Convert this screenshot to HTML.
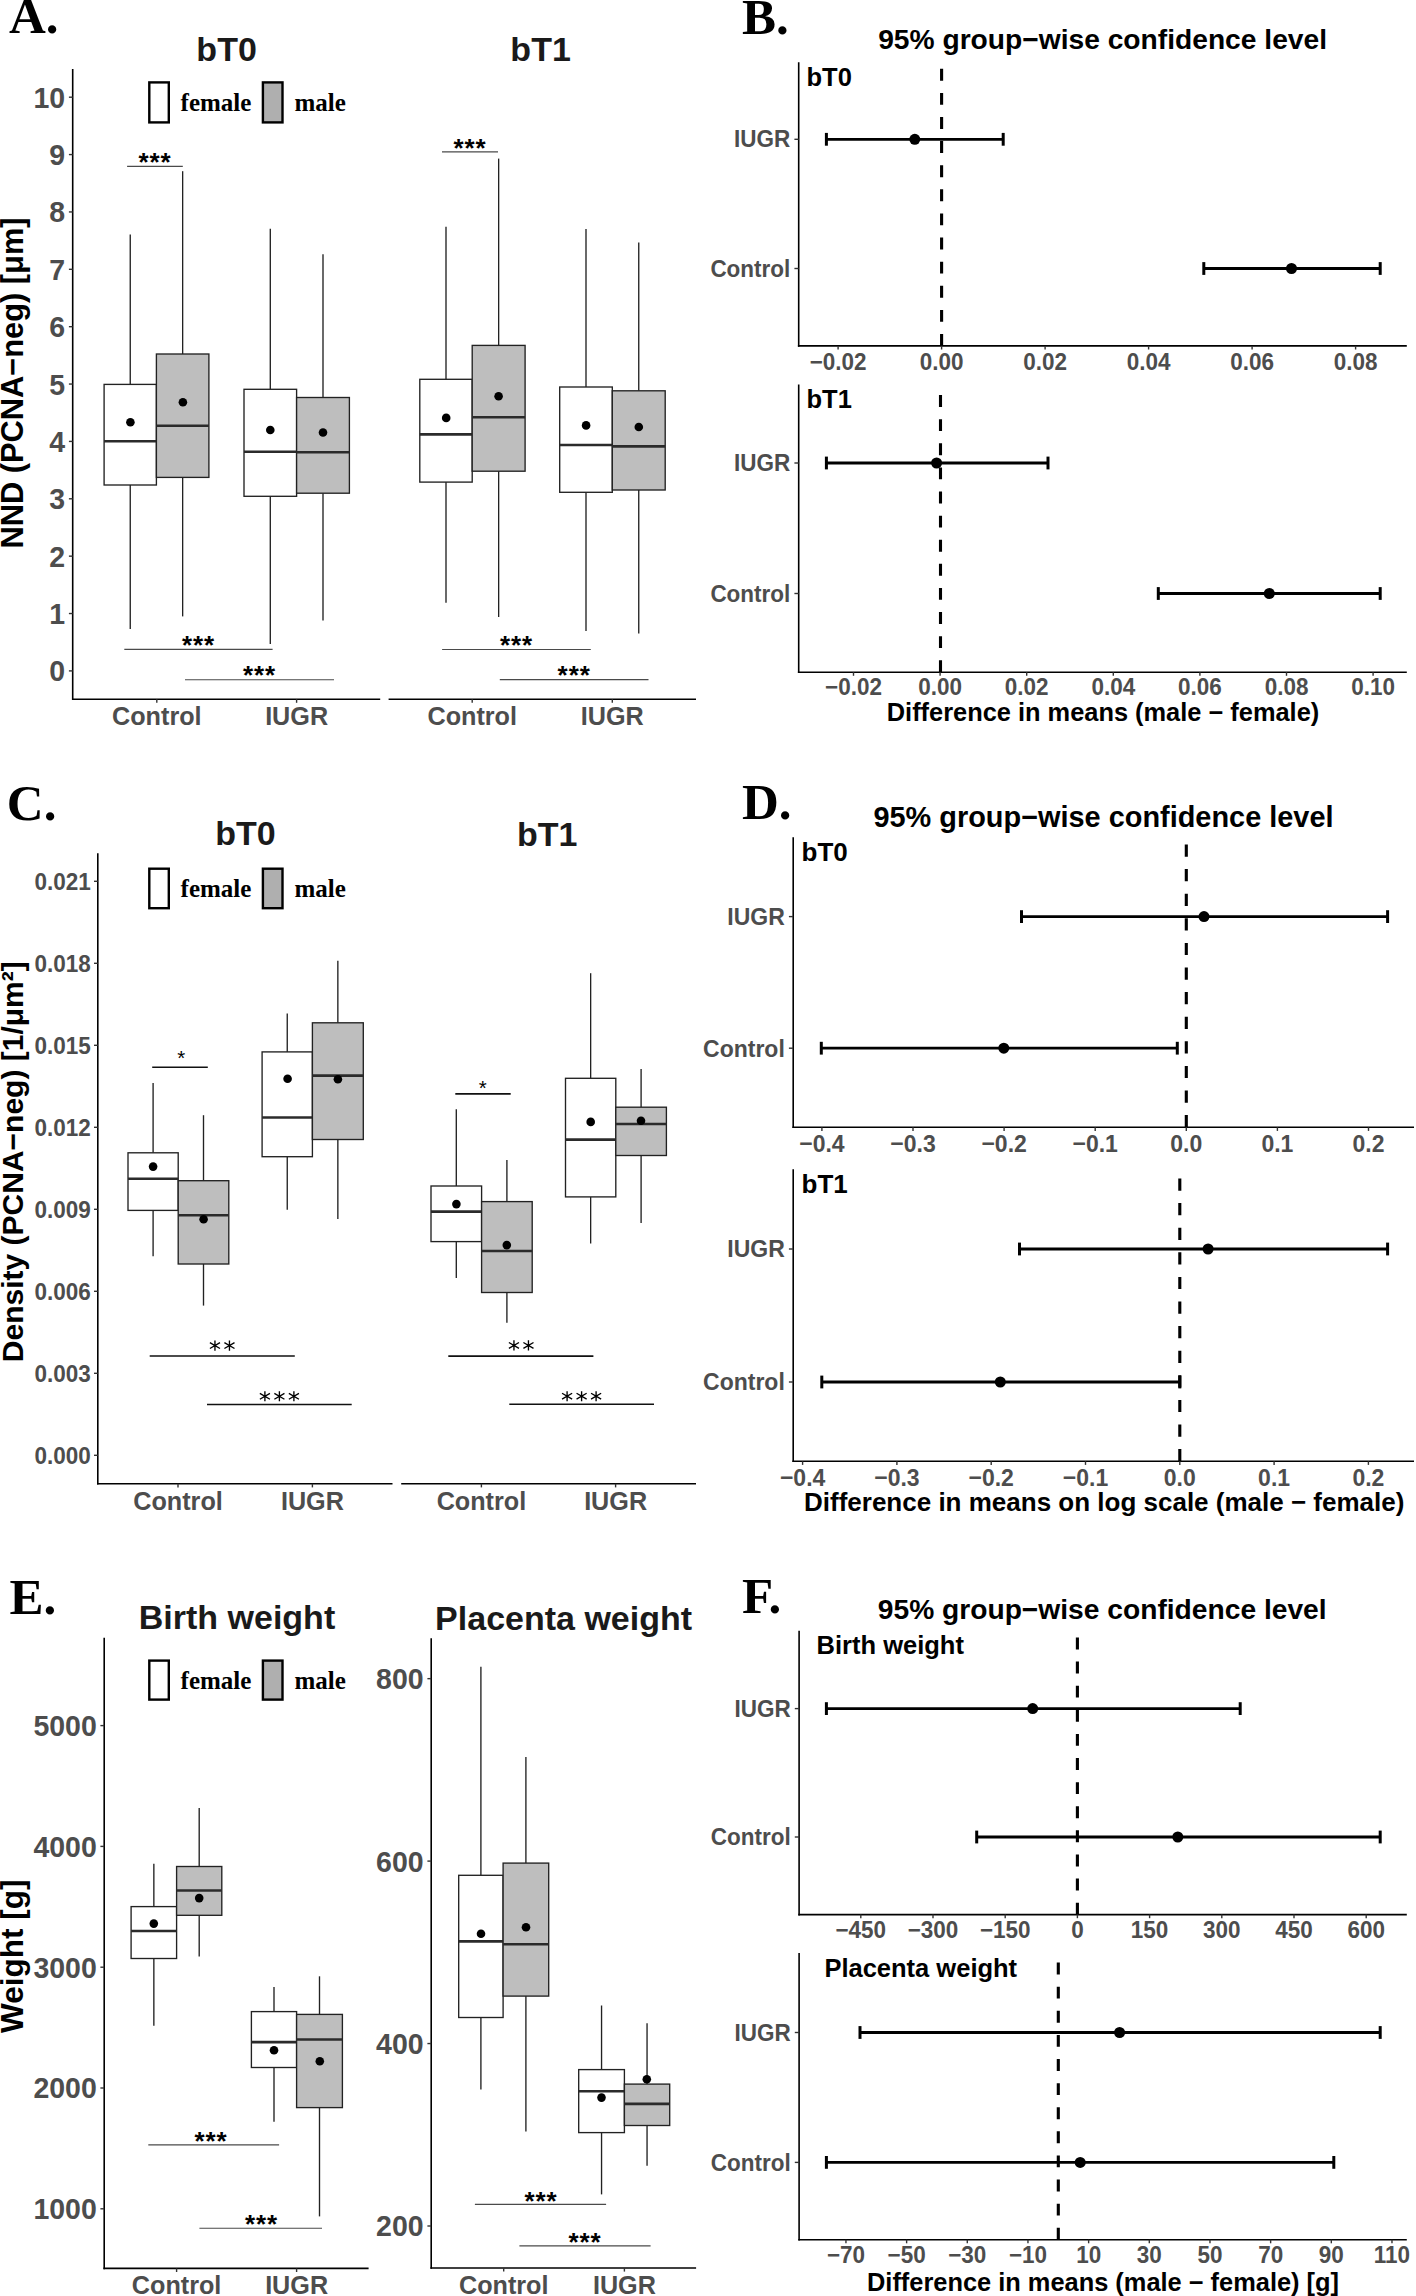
<!DOCTYPE html>
<html><head><meta charset="utf-8"><title>Figure</title>
<style>html,body{margin:0;padding:0;background:#fff;overflow:hidden;}svg{display:block;}</style>
</head><body>
<svg width="1416" height="2296" viewBox="0 0 1416 2296">
<rect x="0" y="0" width="1416" height="2296" fill="#fff"/>
<text x="9" y="33.3" font-family="'Liberation Serif', serif" font-size="51" font-weight="bold" text-anchor="start" fill="#000" >A.</text>
<text x="226.6" y="60.9" font-family="'Liberation Sans', sans-serif" font-size="34" font-weight="bold" text-anchor="middle" fill="#1a1a1a" >bT0</text>
<text x="540.6" y="61" font-family="'Liberation Sans', sans-serif" font-size="34" font-weight="bold" text-anchor="middle" fill="#1a1a1a" >bT1</text>
<rect x="149.3" y="82.4" width="19.5" height="40" fill="#ffffff" stroke="#000" stroke-width="2.4"/>
<rect x="262.9" y="82.4" width="19.6" height="40" fill="#afafaf" stroke="#000" stroke-width="2.4"/>
<text x="180.6" y="110.7" font-family="'Liberation Serif', serif" font-size="25" font-weight="bold" text-anchor="start" fill="#000" >female</text>
<text x="294.4" y="110.7" font-family="'Liberation Serif', serif" font-size="25" font-weight="bold" text-anchor="start" fill="#000" >male</text>
<line x1="72.7" y1="69" x2="72.7" y2="700" stroke="#000" stroke-width="1.6" />
<line x1="68.9" y1="670.9" x2="72.7" y2="670.9" stroke="#333" stroke-width="1.4" />
<text x="0" y="0" transform="translate(65.2 681.39) scale(1 1.05)" font-family="'Liberation Sans', sans-serif" font-size="28.5" font-weight="bold" text-anchor="end" fill="#4d4d4d" >0</text>
<line x1="68.9" y1="613.53" x2="72.7" y2="613.53" stroke="#333" stroke-width="1.4" />
<text x="0" y="0" transform="translate(65.2 624.02) scale(1 1.05)" font-family="'Liberation Sans', sans-serif" font-size="28.5" font-weight="bold" text-anchor="end" fill="#4d4d4d" >1</text>
<line x1="68.9" y1="556.16" x2="72.7" y2="556.16" stroke="#333" stroke-width="1.4" />
<text x="0" y="0" transform="translate(65.2 566.65) scale(1 1.05)" font-family="'Liberation Sans', sans-serif" font-size="28.5" font-weight="bold" text-anchor="end" fill="#4d4d4d" >2</text>
<line x1="68.9" y1="498.79" x2="72.7" y2="498.79" stroke="#333" stroke-width="1.4" />
<text x="0" y="0" transform="translate(65.2 509.28) scale(1 1.05)" font-family="'Liberation Sans', sans-serif" font-size="28.5" font-weight="bold" text-anchor="end" fill="#4d4d4d" >3</text>
<line x1="68.9" y1="441.42" x2="72.7" y2="441.42" stroke="#333" stroke-width="1.4" />
<text x="0" y="0" transform="translate(65.2 451.91) scale(1 1.05)" font-family="'Liberation Sans', sans-serif" font-size="28.5" font-weight="bold" text-anchor="end" fill="#4d4d4d" >4</text>
<line x1="68.9" y1="384.05" x2="72.7" y2="384.05" stroke="#333" stroke-width="1.4" />
<text x="0" y="0" transform="translate(65.2 394.54) scale(1 1.05)" font-family="'Liberation Sans', sans-serif" font-size="28.5" font-weight="bold" text-anchor="end" fill="#4d4d4d" >5</text>
<line x1="68.9" y1="326.68" x2="72.7" y2="326.68" stroke="#333" stroke-width="1.4" />
<text x="0" y="0" transform="translate(65.2 337.17) scale(1 1.05)" font-family="'Liberation Sans', sans-serif" font-size="28.5" font-weight="bold" text-anchor="end" fill="#4d4d4d" >6</text>
<line x1="68.9" y1="269.31" x2="72.7" y2="269.31" stroke="#333" stroke-width="1.4" />
<text x="0" y="0" transform="translate(65.2 279.8) scale(1 1.05)" font-family="'Liberation Sans', sans-serif" font-size="28.5" font-weight="bold" text-anchor="end" fill="#4d4d4d" >7</text>
<line x1="68.9" y1="211.94" x2="72.7" y2="211.94" stroke="#333" stroke-width="1.4" />
<text x="0" y="0" transform="translate(65.2 222.43) scale(1 1.05)" font-family="'Liberation Sans', sans-serif" font-size="28.5" font-weight="bold" text-anchor="end" fill="#4d4d4d" >8</text>
<line x1="68.9" y1="154.57" x2="72.7" y2="154.57" stroke="#333" stroke-width="1.4" />
<text x="0" y="0" transform="translate(65.2 165.06) scale(1 1.05)" font-family="'Liberation Sans', sans-serif" font-size="28.5" font-weight="bold" text-anchor="end" fill="#4d4d4d" >9</text>
<line x1="68.9" y1="97.2" x2="72.7" y2="97.2" stroke="#333" stroke-width="1.4" />
<text x="0" y="0" transform="translate(65.2 107.69) scale(1 1.05)" font-family="'Liberation Sans', sans-serif" font-size="28.5" font-weight="bold" text-anchor="end" fill="#4d4d4d" >10</text>
<line x1="72" y1="699.2" x2="380.2" y2="699.2" stroke="#000" stroke-width="1.6" />
<line x1="156.8" y1="699.2" x2="156.8" y2="702.8" stroke="#333" stroke-width="1.4" />
<text x="0" y="0" transform="translate(156.8 725) scale(1 1.04)" font-family="'Liberation Sans', sans-serif" font-size="25.2" font-weight="bold" text-anchor="middle" fill="#4d4d4d" >Control</text>
<line x1="296.6" y1="699.2" x2="296.6" y2="702.8" stroke="#333" stroke-width="1.4" />
<text x="0" y="0" transform="translate(296.6 725) scale(1 1.04)" font-family="'Liberation Sans', sans-serif" font-size="25.2" font-weight="bold" text-anchor="middle" fill="#4d4d4d" >IUGR</text>
<line x1="388.6" y1="699.2" x2="696" y2="699.2" stroke="#000" stroke-width="1.6" />
<line x1="472.2" y1="699.2" x2="472.2" y2="702.8" stroke="#333" stroke-width="1.4" />
<text x="0" y="0" transform="translate(472.2 725) scale(1 1.04)" font-family="'Liberation Sans', sans-serif" font-size="25.2" font-weight="bold" text-anchor="middle" fill="#4d4d4d" >Control</text>
<line x1="612.3" y1="699.2" x2="612.3" y2="702.8" stroke="#333" stroke-width="1.4" />
<text x="0" y="0" transform="translate(612.3 725) scale(1 1.04)" font-family="'Liberation Sans', sans-serif" font-size="25.2" font-weight="bold" text-anchor="middle" fill="#4d4d4d" >IUGR</text>
<text x="23.2" y="383" font-family="'Liberation Sans', sans-serif" font-size="30.8" font-weight="bold" text-anchor="middle" fill="#000" transform="rotate(-90 23.2 383)">NND (PCNA−neg) [μm]</text>
<line x1="130.25" y1="234.5" x2="130.25" y2="384.4" stroke="#222222" stroke-width="1.35" />
<line x1="130.25" y1="485" x2="130.25" y2="629" stroke="#222222" stroke-width="1.35" />
<rect x="104.1" y="384.4" width="52.3" height="100.6" fill="#ffffff" stroke="#222222" stroke-width="1.35"/>
<line x1="104.1" y1="441.3" x2="156.4" y2="441.3" stroke="#2b2b2b" stroke-width="2.6" />
<circle cx="130.4" cy="422.2" r="4.3" fill="#000"/>
<line x1="182.65" y1="171.2" x2="182.65" y2="354" stroke="#222222" stroke-width="1.35" />
<line x1="182.65" y1="477.4" x2="182.65" y2="616.4" stroke="#222222" stroke-width="1.35" />
<rect x="156.4" y="354" width="52.5" height="123.4" fill="#bebebe" stroke="#222222" stroke-width="1.35"/>
<line x1="156.4" y1="425.8" x2="208.9" y2="425.8" stroke="#2b2b2b" stroke-width="2.6" />
<circle cx="182.9" cy="402.2" r="4.3" fill="#000"/>
<line x1="270.3" y1="228.8" x2="270.3" y2="389.3" stroke="#222222" stroke-width="1.35" />
<line x1="270.3" y1="496.3" x2="270.3" y2="644" stroke="#222222" stroke-width="1.35" />
<rect x="244" y="389.3" width="52.6" height="107" fill="#ffffff" stroke="#222222" stroke-width="1.35"/>
<line x1="244" y1="451.7" x2="296.6" y2="451.7" stroke="#2b2b2b" stroke-width="2.6" />
<circle cx="270.3" cy="430" r="4.3" fill="#000"/>
<line x1="323" y1="254.2" x2="323" y2="397.5" stroke="#222222" stroke-width="1.35" />
<line x1="323" y1="493.2" x2="323" y2="620.6" stroke="#222222" stroke-width="1.35" />
<rect x="296.6" y="397.5" width="52.8" height="95.7" fill="#bebebe" stroke="#222222" stroke-width="1.35"/>
<line x1="296.6" y1="452.3" x2="349.4" y2="452.3" stroke="#2b2b2b" stroke-width="2.6" />
<circle cx="323" cy="432.5" r="4.3" fill="#000"/>
<line x1="446" y1="226.7" x2="446" y2="379.3" stroke="#222222" stroke-width="1.35" />
<line x1="446" y1="482.1" x2="446" y2="602.8" stroke="#222222" stroke-width="1.35" />
<rect x="419.8" y="379.3" width="52.4" height="102.8" fill="#ffffff" stroke="#222222" stroke-width="1.35"/>
<line x1="419.8" y1="434.4" x2="472.2" y2="434.4" stroke="#2b2b2b" stroke-width="2.6" />
<circle cx="446.2" cy="417.9" r="4.3" fill="#000"/>
<line x1="498.65" y1="158.6" x2="498.65" y2="345.4" stroke="#222222" stroke-width="1.35" />
<line x1="498.65" y1="471.2" x2="498.65" y2="617" stroke="#222222" stroke-width="1.35" />
<rect x="472.2" y="345.4" width="52.9" height="125.8" fill="#bebebe" stroke="#222222" stroke-width="1.35"/>
<line x1="472.2" y1="417.2" x2="525.1" y2="417.2" stroke="#2b2b2b" stroke-width="2.6" />
<circle cx="498.6" cy="396.2" r="4.3" fill="#000"/>
<line x1="586" y1="228.9" x2="586" y2="387" stroke="#222222" stroke-width="1.35" />
<line x1="586" y1="492.3" x2="586" y2="631" stroke="#222222" stroke-width="1.35" />
<rect x="559.7" y="387" width="52.6" height="105.3" fill="#ffffff" stroke="#222222" stroke-width="1.35"/>
<line x1="559.7" y1="445" x2="612.3" y2="445" stroke="#2b2b2b" stroke-width="2.6" />
<circle cx="586.1" cy="425.4" r="4.3" fill="#000"/>
<line x1="638.75" y1="242.5" x2="638.75" y2="390.8" stroke="#222222" stroke-width="1.35" />
<line x1="638.75" y1="490" x2="638.75" y2="633.5" stroke="#222222" stroke-width="1.35" />
<rect x="612.3" y="390.8" width="52.9" height="99.2" fill="#bebebe" stroke="#222222" stroke-width="1.35"/>
<line x1="612.3" y1="446.4" x2="665.2" y2="446.4" stroke="#2b2b2b" stroke-width="2.6" />
<circle cx="638.8" cy="427" r="4.3" fill="#000"/>
<line x1="127.1" y1="166.4" x2="182.8" y2="166.4" stroke="#4a4a4a" stroke-width="1.15" />
<text x="154.95" y="171.1" font-family="'Liberation Sans', sans-serif" font-size="26" font-weight="bold" text-anchor="middle" fill="#000" letter-spacing="0.9">***</text>
<line x1="124.3" y1="649.4" x2="272.6" y2="649.4" stroke="#4a4a4a" stroke-width="1.15" />
<text x="198.45" y="654.1" font-family="'Liberation Sans', sans-serif" font-size="26" font-weight="bold" text-anchor="middle" fill="#000" letter-spacing="0.9">***</text>
<line x1="185" y1="679.7" x2="334" y2="679.7" stroke="#4a4a4a" stroke-width="1.15" />
<text x="259.5" y="684.4" font-family="'Liberation Sans', sans-serif" font-size="26" font-weight="bold" text-anchor="middle" fill="#000" letter-spacing="0.9">***</text>
<line x1="442" y1="151.9" x2="498" y2="151.9" stroke="#4a4a4a" stroke-width="1.15" />
<text x="470" y="156.6" font-family="'Liberation Sans', sans-serif" font-size="26" font-weight="bold" text-anchor="middle" fill="#000" letter-spacing="0.9">***</text>
<line x1="442.1" y1="649.5" x2="590.8" y2="649.5" stroke="#4a4a4a" stroke-width="1.15" />
<text x="516.45" y="654.2" font-family="'Liberation Sans', sans-serif" font-size="26" font-weight="bold" text-anchor="middle" fill="#000" letter-spacing="0.9">***</text>
<line x1="499.8" y1="679.6" x2="648.5" y2="679.6" stroke="#4a4a4a" stroke-width="1.15" />
<text x="574.15" y="684.3" font-family="'Liberation Sans', sans-serif" font-size="26" font-weight="bold" text-anchor="middle" fill="#000" letter-spacing="0.9">***</text>
<text x="742" y="33.6" font-family="'Liberation Serif', serif" font-size="51" font-weight="bold" text-anchor="start" fill="#000" >B.</text>
<text x="1102.6" y="49.3" font-family="'Liberation Sans', sans-serif" font-size="28.2" font-weight="bold" text-anchor="middle" fill="#000" >95% group−wise confidence level</text>
<line x1="798.7" y1="62.3" x2="798.7" y2="346.7" stroke="#000" stroke-width="1.6" />
<line x1="797.9" y1="345.9" x2="1406.8" y2="345.9" stroke="#000" stroke-width="1.6" />
<line x1="941.6" y1="345.9" x2="941.6" y2="62.3" stroke="#000" stroke-width="3.1" stroke-dasharray="11.9 12.21"/>
<text x="806.5" y="85.6" font-family="'Liberation Sans', sans-serif" font-size="25.5" font-weight="bold" text-anchor="start" fill="#000" >bT0</text>
<line x1="794.4" y1="139.3" x2="798.7" y2="139.3" stroke="#333" stroke-width="1.4" />
<text x="0" y="0" transform="translate(790.3 147.43) scale(1 1.05)" font-family="'Liberation Sans', sans-serif" font-size="22.5" font-weight="bold" text-anchor="end" fill="#4d4d4d" >IUGR</text>
<line x1="826.4" y1="139.3" x2="1003.2" y2="139.3" stroke="#000" stroke-width="2.8" />
<line x1="826.4" y1="132.9" x2="826.4" y2="145.7" stroke="#000" stroke-width="3" />
<line x1="1003.2" y1="132.9" x2="1003.2" y2="145.7" stroke="#000" stroke-width="3" />
<circle cx="914.8" cy="139.3" r="5.5" fill="#000"/>
<line x1="794.4" y1="268.5" x2="798.7" y2="268.5" stroke="#333" stroke-width="1.4" />
<text x="0" y="0" transform="translate(790.3 276.63) scale(1 1.05)" font-family="'Liberation Sans', sans-serif" font-size="22.5" font-weight="bold" text-anchor="end" fill="#4d4d4d" >Control</text>
<line x1="1203.8" y1="268.5" x2="1380.2" y2="268.5" stroke="#000" stroke-width="2.8" />
<line x1="1203.8" y1="262.1" x2="1203.8" y2="274.9" stroke="#000" stroke-width="3" />
<line x1="1380.2" y1="262.1" x2="1380.2" y2="274.9" stroke="#000" stroke-width="3" />
<circle cx="1291.5" cy="268.5" r="5.5" fill="#000"/>
<line x1="838.1" y1="345.9" x2="838.1" y2="349.5" stroke="#333" stroke-width="1.4" />
<text x="0" y="0" transform="translate(838.1 369.5) scale(1 1.05)" font-family="'Liberation Sans', sans-serif" font-size="22.5" font-weight="bold" text-anchor="middle" fill="#4d4d4d" >−0.02</text>
<line x1="941.6" y1="345.9" x2="941.6" y2="349.5" stroke="#333" stroke-width="1.4" />
<text x="0" y="0" transform="translate(941.6 369.5) scale(1 1.05)" font-family="'Liberation Sans', sans-serif" font-size="22.5" font-weight="bold" text-anchor="middle" fill="#4d4d4d" >0.00</text>
<line x1="1045.1" y1="345.9" x2="1045.1" y2="349.5" stroke="#333" stroke-width="1.4" />
<text x="0" y="0" transform="translate(1045.1 369.5) scale(1 1.05)" font-family="'Liberation Sans', sans-serif" font-size="22.5" font-weight="bold" text-anchor="middle" fill="#4d4d4d" >0.02</text>
<line x1="1148.6" y1="345.9" x2="1148.6" y2="349.5" stroke="#333" stroke-width="1.4" />
<text x="0" y="0" transform="translate(1148.6 369.5) scale(1 1.05)" font-family="'Liberation Sans', sans-serif" font-size="22.5" font-weight="bold" text-anchor="middle" fill="#4d4d4d" >0.04</text>
<line x1="1252.1" y1="345.9" x2="1252.1" y2="349.5" stroke="#333" stroke-width="1.4" />
<text x="0" y="0" transform="translate(1252.1 369.5) scale(1 1.05)" font-family="'Liberation Sans', sans-serif" font-size="22.5" font-weight="bold" text-anchor="middle" fill="#4d4d4d" >0.06</text>
<line x1="1355.6" y1="345.9" x2="1355.6" y2="349.5" stroke="#333" stroke-width="1.4" />
<text x="0" y="0" transform="translate(1355.6 369.5) scale(1 1.05)" font-family="'Liberation Sans', sans-serif" font-size="22.5" font-weight="bold" text-anchor="middle" fill="#4d4d4d" >0.08</text>
<line x1="798.7" y1="384.5" x2="798.7" y2="673" stroke="#000" stroke-width="1.6" />
<line x1="797.9" y1="672.2" x2="1406.8" y2="672.2" stroke="#000" stroke-width="1.6" />
<line x1="940.5" y1="672.2" x2="940.5" y2="384.5" stroke="#000" stroke-width="3.1" stroke-dasharray="11.9 12.21"/>
<text x="806.5" y="408" font-family="'Liberation Sans', sans-serif" font-size="25.5" font-weight="bold" text-anchor="start" fill="#000" >bT1</text>
<line x1="794.4" y1="463" x2="798.7" y2="463" stroke="#333" stroke-width="1.4" />
<text x="0" y="0" transform="translate(790.3 471.13) scale(1 1.05)" font-family="'Liberation Sans', sans-serif" font-size="22.5" font-weight="bold" text-anchor="end" fill="#4d4d4d" >IUGR</text>
<line x1="826.4" y1="463" x2="1048" y2="463" stroke="#000" stroke-width="2.8" />
<line x1="826.4" y1="456.6" x2="826.4" y2="469.4" stroke="#000" stroke-width="3" />
<line x1="1048" y1="456.6" x2="1048" y2="469.4" stroke="#000" stroke-width="3" />
<circle cx="936.6" cy="463" r="5.5" fill="#000"/>
<line x1="794.4" y1="593.5" x2="798.7" y2="593.5" stroke="#333" stroke-width="1.4" />
<text x="0" y="0" transform="translate(790.3 601.63) scale(1 1.05)" font-family="'Liberation Sans', sans-serif" font-size="22.5" font-weight="bold" text-anchor="end" fill="#4d4d4d" >Control</text>
<line x1="1158.3" y1="593.5" x2="1380.2" y2="593.5" stroke="#000" stroke-width="2.8" />
<line x1="1158.3" y1="587.1" x2="1158.3" y2="599.9" stroke="#000" stroke-width="3" />
<line x1="1380.2" y1="587.1" x2="1380.2" y2="599.9" stroke="#000" stroke-width="3" />
<circle cx="1269.3" cy="593.5" r="5.5" fill="#000"/>
<line x1="853.5" y1="672.2" x2="853.5" y2="675.8" stroke="#333" stroke-width="1.4" />
<text x="0" y="0" transform="translate(853.5 695.2) scale(1 1.05)" font-family="'Liberation Sans', sans-serif" font-size="22.5" font-weight="bold" text-anchor="middle" fill="#4d4d4d" >−0.02</text>
<line x1="940.1" y1="672.2" x2="940.1" y2="675.8" stroke="#333" stroke-width="1.4" />
<text x="0" y="0" transform="translate(940.1 695.2) scale(1 1.05)" font-family="'Liberation Sans', sans-serif" font-size="22.5" font-weight="bold" text-anchor="middle" fill="#4d4d4d" >0.00</text>
<line x1="1026.7" y1="672.2" x2="1026.7" y2="675.8" stroke="#333" stroke-width="1.4" />
<text x="0" y="0" transform="translate(1026.7 695.2) scale(1 1.05)" font-family="'Liberation Sans', sans-serif" font-size="22.5" font-weight="bold" text-anchor="middle" fill="#4d4d4d" >0.02</text>
<line x1="1113.3" y1="672.2" x2="1113.3" y2="675.8" stroke="#333" stroke-width="1.4" />
<text x="0" y="0" transform="translate(1113.3 695.2) scale(1 1.05)" font-family="'Liberation Sans', sans-serif" font-size="22.5" font-weight="bold" text-anchor="middle" fill="#4d4d4d" >0.04</text>
<line x1="1199.9" y1="672.2" x2="1199.9" y2="675.8" stroke="#333" stroke-width="1.4" />
<text x="0" y="0" transform="translate(1199.9 695.2) scale(1 1.05)" font-family="'Liberation Sans', sans-serif" font-size="22.5" font-weight="bold" text-anchor="middle" fill="#4d4d4d" >0.06</text>
<line x1="1286.5" y1="672.2" x2="1286.5" y2="675.8" stroke="#333" stroke-width="1.4" />
<text x="0" y="0" transform="translate(1286.5 695.2) scale(1 1.05)" font-family="'Liberation Sans', sans-serif" font-size="22.5" font-weight="bold" text-anchor="middle" fill="#4d4d4d" >0.08</text>
<line x1="1373.1" y1="672.2" x2="1373.1" y2="675.8" stroke="#333" stroke-width="1.4" />
<text x="0" y="0" transform="translate(1373.1 695.2) scale(1 1.05)" font-family="'Liberation Sans', sans-serif" font-size="22.5" font-weight="bold" text-anchor="middle" fill="#4d4d4d" >0.10</text>
<text x="1103" y="720.5" font-family="'Liberation Sans', sans-serif" font-size="25.4" font-weight="bold" text-anchor="middle" fill="#000" >Difference in means (male − female)</text>
<text x="6.8" y="820.2" font-family="'Liberation Serif', serif" font-size="51" font-weight="bold" text-anchor="start" fill="#000" >C.</text>
<text x="245.4" y="845.3" font-family="'Liberation Sans', sans-serif" font-size="34" font-weight="bold" text-anchor="middle" fill="#1a1a1a" >bT0</text>
<text x="547.3" y="846" font-family="'Liberation Sans', sans-serif" font-size="34" font-weight="bold" text-anchor="middle" fill="#1a1a1a" >bT1</text>
<rect x="149.3" y="868.7" width="19.5" height="39.5" fill="#ffffff" stroke="#000" stroke-width="2.4"/>
<rect x="262.9" y="868.7" width="19.6" height="39.5" fill="#afafaf" stroke="#000" stroke-width="2.4"/>
<text x="180.6" y="897.2" font-family="'Liberation Serif', serif" font-size="25" font-weight="bold" text-anchor="start" fill="#000" >female</text>
<text x="294.4" y="897.2" font-family="'Liberation Serif', serif" font-size="25" font-weight="bold" text-anchor="start" fill="#000" >male</text>
<line x1="97.8" y1="853.3" x2="97.8" y2="1484.6" stroke="#000" stroke-width="1.6" />
<line x1="94" y1="1455.3" x2="97.8" y2="1455.3" stroke="#333" stroke-width="1.4" />
<text x="0" y="0" transform="translate(90.7 1463.86) scale(1 1.08)" font-family="'Liberation Sans', sans-serif" font-size="22.5" font-weight="bold" text-anchor="end" fill="#4d4d4d" >0.000</text>
<line x1="94" y1="1373.3" x2="97.8" y2="1373.3" stroke="#333" stroke-width="1.4" />
<text x="0" y="0" transform="translate(90.7 1381.86) scale(1 1.08)" font-family="'Liberation Sans', sans-serif" font-size="22.5" font-weight="bold" text-anchor="end" fill="#4d4d4d" >0.003</text>
<line x1="94" y1="1291.3" x2="97.8" y2="1291.3" stroke="#333" stroke-width="1.4" />
<text x="0" y="0" transform="translate(90.7 1299.86) scale(1 1.08)" font-family="'Liberation Sans', sans-serif" font-size="22.5" font-weight="bold" text-anchor="end" fill="#4d4d4d" >0.006</text>
<line x1="94" y1="1209.3" x2="97.8" y2="1209.3" stroke="#333" stroke-width="1.4" />
<text x="0" y="0" transform="translate(90.7 1217.86) scale(1 1.08)" font-family="'Liberation Sans', sans-serif" font-size="22.5" font-weight="bold" text-anchor="end" fill="#4d4d4d" >0.009</text>
<line x1="94" y1="1127.3" x2="97.8" y2="1127.3" stroke="#333" stroke-width="1.4" />
<text x="0" y="0" transform="translate(90.7 1135.86) scale(1 1.08)" font-family="'Liberation Sans', sans-serif" font-size="22.5" font-weight="bold" text-anchor="end" fill="#4d4d4d" >0.012</text>
<line x1="94" y1="1045.3" x2="97.8" y2="1045.3" stroke="#333" stroke-width="1.4" />
<text x="0" y="0" transform="translate(90.7 1053.86) scale(1 1.08)" font-family="'Liberation Sans', sans-serif" font-size="22.5" font-weight="bold" text-anchor="end" fill="#4d4d4d" >0.015</text>
<line x1="94" y1="963.3" x2="97.8" y2="963.3" stroke="#333" stroke-width="1.4" />
<text x="0" y="0" transform="translate(90.7 971.86) scale(1 1.08)" font-family="'Liberation Sans', sans-serif" font-size="22.5" font-weight="bold" text-anchor="end" fill="#4d4d4d" >0.018</text>
<line x1="94" y1="881.3" x2="97.8" y2="881.3" stroke="#333" stroke-width="1.4" />
<text x="0" y="0" transform="translate(90.7 889.86) scale(1 1.08)" font-family="'Liberation Sans', sans-serif" font-size="22.5" font-weight="bold" text-anchor="end" fill="#4d4d4d" >0.021</text>
<line x1="97" y1="1483.8" x2="392.5" y2="1483.8" stroke="#000" stroke-width="1.6" />
<line x1="178" y1="1483.8" x2="178" y2="1487.4" stroke="#333" stroke-width="1.4" />
<text x="0" y="0" transform="translate(178 1509.6) scale(1 1.04)" font-family="'Liberation Sans', sans-serif" font-size="25.2" font-weight="bold" text-anchor="middle" fill="#4d4d4d" >Control</text>
<line x1="312.4" y1="1483.8" x2="312.4" y2="1487.4" stroke="#333" stroke-width="1.4" />
<text x="0" y="0" transform="translate(312.4 1509.6) scale(1 1.04)" font-family="'Liberation Sans', sans-serif" font-size="25.2" font-weight="bold" text-anchor="middle" fill="#4d4d4d" >IUGR</text>
<line x1="401.2" y1="1483.8" x2="696" y2="1483.8" stroke="#000" stroke-width="1.6" />
<line x1="481.4" y1="1483.8" x2="481.4" y2="1487.4" stroke="#333" stroke-width="1.4" />
<text x="0" y="0" transform="translate(481.4 1509.6) scale(1 1.04)" font-family="'Liberation Sans', sans-serif" font-size="25.2" font-weight="bold" text-anchor="middle" fill="#4d4d4d" >Control</text>
<line x1="615.6" y1="1483.8" x2="615.6" y2="1487.4" stroke="#333" stroke-width="1.4" />
<text x="0" y="0" transform="translate(615.6 1509.6) scale(1 1.04)" font-family="'Liberation Sans', sans-serif" font-size="25.2" font-weight="bold" text-anchor="middle" fill="#4d4d4d" >IUGR</text>
<text x="22.9" y="1161.7" font-family="'Liberation Sans', sans-serif" font-size="30" font-weight="bold" text-anchor="middle" fill="#000" transform="rotate(-90 22.9 1161.7)">Density (PCNA−neg) [1/μm²]</text>
<line x1="153.1" y1="1083" x2="153.1" y2="1152.8" stroke="#222222" stroke-width="1.35" />
<line x1="153.1" y1="1210.4" x2="153.1" y2="1256.2" stroke="#222222" stroke-width="1.35" />
<rect x="128" y="1152.8" width="50.2" height="57.6" fill="#ffffff" stroke="#222222" stroke-width="1.35"/>
<line x1="128" y1="1178.8" x2="178.2" y2="1178.8" stroke="#2b2b2b" stroke-width="2.6" />
<circle cx="153.1" cy="1166.6" r="4.3" fill="#000"/>
<line x1="203.5" y1="1115.2" x2="203.5" y2="1180.7" stroke="#222222" stroke-width="1.35" />
<line x1="203.5" y1="1264" x2="203.5" y2="1305.6" stroke="#222222" stroke-width="1.35" />
<rect x="178.2" y="1180.7" width="50.6" height="83.3" fill="#bebebe" stroke="#222222" stroke-width="1.35"/>
<line x1="178.2" y1="1215.2" x2="228.8" y2="1215.2" stroke="#2b2b2b" stroke-width="2.6" />
<circle cx="203.6" cy="1219.2" r="4.3" fill="#000"/>
<line x1="287.25" y1="1013.5" x2="287.25" y2="1051.9" stroke="#222222" stroke-width="1.35" />
<line x1="287.25" y1="1156.7" x2="287.25" y2="1209.8" stroke="#222222" stroke-width="1.35" />
<rect x="262.1" y="1051.9" width="50.3" height="104.8" fill="#ffffff" stroke="#222222" stroke-width="1.35"/>
<line x1="262.1" y1="1117.5" x2="312.4" y2="1117.5" stroke="#2b2b2b" stroke-width="2.6" />
<circle cx="287.6" cy="1078.8" r="4.3" fill="#000"/>
<line x1="337.85" y1="960.7" x2="337.85" y2="1022.8" stroke="#222222" stroke-width="1.35" />
<line x1="337.85" y1="1139.5" x2="337.85" y2="1218.9" stroke="#222222" stroke-width="1.35" />
<rect x="312.4" y="1022.8" width="50.9" height="116.7" fill="#bebebe" stroke="#222222" stroke-width="1.35"/>
<line x1="312.4" y1="1075.6" x2="363.3" y2="1075.6" stroke="#2b2b2b" stroke-width="2.6" />
<circle cx="337.9" cy="1079.3" r="4.3" fill="#000"/>
<line x1="456.3" y1="1109.3" x2="456.3" y2="1186" stroke="#222222" stroke-width="1.35" />
<line x1="456.3" y1="1241.6" x2="456.3" y2="1278" stroke="#222222" stroke-width="1.35" />
<rect x="431" y="1186" width="50.6" height="55.6" fill="#ffffff" stroke="#222222" stroke-width="1.35"/>
<line x1="431" y1="1211.6" x2="481.6" y2="1211.6" stroke="#2b2b2b" stroke-width="2.6" />
<circle cx="456.4" cy="1204.1" r="4.3" fill="#000"/>
<line x1="506.9" y1="1160.1" x2="506.9" y2="1201.6" stroke="#222222" stroke-width="1.35" />
<line x1="506.9" y1="1292.5" x2="506.9" y2="1322.7" stroke="#222222" stroke-width="1.35" />
<rect x="481.6" y="1201.6" width="50.6" height="90.9" fill="#bebebe" stroke="#222222" stroke-width="1.35"/>
<line x1="481.6" y1="1251" x2="532.2" y2="1251" stroke="#2b2b2b" stroke-width="2.6" />
<circle cx="506.8" cy="1245.1" r="4.3" fill="#000"/>
<line x1="590.65" y1="973.2" x2="590.65" y2="1078.3" stroke="#222222" stroke-width="1.35" />
<line x1="590.65" y1="1196.9" x2="590.65" y2="1243.5" stroke="#222222" stroke-width="1.35" />
<rect x="565.5" y="1078.3" width="50.3" height="118.6" fill="#ffffff" stroke="#222222" stroke-width="1.35"/>
<line x1="565.5" y1="1139.6" x2="615.8" y2="1139.6" stroke="#2b2b2b" stroke-width="2.6" />
<circle cx="590.7" cy="1121.9" r="4.3" fill="#000"/>
<line x1="641.1" y1="1069" x2="641.1" y2="1107.2" stroke="#222222" stroke-width="1.35" />
<line x1="641.1" y1="1155.5" x2="641.1" y2="1223" stroke="#222222" stroke-width="1.35" />
<rect x="615.8" y="1107.2" width="50.6" height="48.3" fill="#bebebe" stroke="#222222" stroke-width="1.35"/>
<line x1="615.8" y1="1124" x2="666.4" y2="1124" stroke="#2b2b2b" stroke-width="2.6" />
<circle cx="641" cy="1120.7" r="4.3" fill="#000"/>
<line x1="152.2" y1="1067.2" x2="207.8" y2="1067.2" stroke="#111" stroke-width="1.6" />
<text x="181.2" y="1065.31" font-family="'Liberation Sans', sans-serif" font-size="20.5" font-weight="normal" text-anchor="middle" fill="#000" >*</text>
<line x1="149.7" y1="1356" x2="294.8" y2="1356" stroke="#111" stroke-width="1.6" />
<path d="M214.95 1340.55V1350.65M209.9 1342.68L220 1348.52M209.9 1348.52L220 1342.68" stroke="#000" stroke-width="1.35" fill="none" stroke-linecap="butt"/>
<path d="M229.45 1340.55V1350.65M224.4 1342.68L234.5 1348.52M224.4 1348.52L234.5 1342.68" stroke="#000" stroke-width="1.35" fill="none" stroke-linecap="butt"/>
<line x1="207" y1="1404.5" x2="351.7" y2="1404.5" stroke="#111" stroke-width="1.6" />
<path d="M264.9 1391.25V1401.35M259.85 1393.38L269.95 1399.22M259.85 1399.22L269.95 1393.38" stroke="#000" stroke-width="1.35" fill="none" stroke-linecap="butt"/>
<path d="M279.4 1391.25V1401.35M274.35 1393.38L284.45 1399.22M274.35 1399.22L284.45 1393.38" stroke="#000" stroke-width="1.35" fill="none" stroke-linecap="butt"/>
<path d="M293.9 1391.25V1401.35M288.85 1393.38L298.95 1399.22M288.85 1399.22L298.95 1393.38" stroke="#000" stroke-width="1.35" fill="none" stroke-linecap="butt"/>
<line x1="455.3" y1="1093.9" x2="510.7" y2="1093.9" stroke="#111" stroke-width="1.6" />
<text x="482.8" y="1094.61" font-family="'Liberation Sans', sans-serif" font-size="20.5" font-weight="normal" text-anchor="middle" fill="#000" >*</text>
<line x1="448.3" y1="1356.1" x2="593.4" y2="1356.1" stroke="#111" stroke-width="1.6" />
<path d="M513.95 1340.35V1350.45M508.9 1342.48L519 1348.32M508.9 1348.32L519 1342.48" stroke="#000" stroke-width="1.35" fill="none" stroke-linecap="butt"/>
<path d="M528.45 1340.35V1350.45M523.4 1342.48L533.5 1348.32M523.4 1348.32L533.5 1342.48" stroke="#000" stroke-width="1.35" fill="none" stroke-linecap="butt"/>
<line x1="509.3" y1="1404.3" x2="654" y2="1404.3" stroke="#111" stroke-width="1.6" />
<path d="M567.1 1391.15V1401.25M562.05 1393.28L572.15 1399.12M562.05 1399.12L572.15 1393.28" stroke="#000" stroke-width="1.35" fill="none" stroke-linecap="butt"/>
<path d="M581.6 1391.15V1401.25M576.55 1393.28L586.65 1399.12M576.55 1399.12L586.65 1393.28" stroke="#000" stroke-width="1.35" fill="none" stroke-linecap="butt"/>
<path d="M596.1 1391.15V1401.25M591.05 1393.28L601.15 1399.12M591.05 1399.12L601.15 1393.28" stroke="#000" stroke-width="1.35" fill="none" stroke-linecap="butt"/>
<text x="742" y="819.4" font-family="'Liberation Serif', serif" font-size="51" font-weight="bold" text-anchor="start" fill="#000" >D.</text>
<text x="1103.5" y="827.3" font-family="'Liberation Sans', sans-serif" font-size="28.9" font-weight="bold" text-anchor="middle" fill="#000" >95% group−wise confidence level</text>
<line x1="793.2" y1="837.2" x2="793.2" y2="1128.1" stroke="#000" stroke-width="1.6" />
<line x1="792.4" y1="1127.3" x2="1414" y2="1127.3" stroke="#000" stroke-width="1.6" />
<line x1="1186.3" y1="1127.3" x2="1186.3" y2="837.2" stroke="#000" stroke-width="3.1" stroke-dasharray="12.2 12.4"/>
<text x="801.5" y="860.5" font-family="'Liberation Sans', sans-serif" font-size="26" font-weight="bold" text-anchor="start" fill="#000" >bT0</text>
<line x1="788.9" y1="916.6" x2="793.2" y2="916.6" stroke="#333" stroke-width="1.4" />
<text x="0" y="0" transform="translate(784.8 924.91) scale(1 1.05)" font-family="'Liberation Sans', sans-serif" font-size="23" font-weight="bold" text-anchor="end" fill="#4d4d4d" >IUGR</text>
<line x1="1021.5" y1="916.6" x2="1387.6" y2="916.6" stroke="#000" stroke-width="2.8" />
<line x1="1021.5" y1="910.2" x2="1021.5" y2="923" stroke="#000" stroke-width="3" />
<line x1="1387.6" y1="910.2" x2="1387.6" y2="923" stroke="#000" stroke-width="3" />
<circle cx="1204" cy="916.6" r="5.5" fill="#000"/>
<line x1="788.9" y1="1048.2" x2="793.2" y2="1048.2" stroke="#333" stroke-width="1.4" />
<text x="0" y="0" transform="translate(784.8 1056.51) scale(1 1.05)" font-family="'Liberation Sans', sans-serif" font-size="23" font-weight="bold" text-anchor="end" fill="#4d4d4d" >Control</text>
<line x1="821.3" y1="1048.2" x2="1177.3" y2="1048.2" stroke="#000" stroke-width="2.8" />
<line x1="821.3" y1="1041.8" x2="821.3" y2="1054.6" stroke="#000" stroke-width="3" />
<line x1="1177.3" y1="1041.8" x2="1177.3" y2="1054.6" stroke="#000" stroke-width="3" />
<circle cx="1003.8" cy="1048.2" r="5.5" fill="#000"/>
<line x1="821.9" y1="1127.3" x2="821.9" y2="1130.9" stroke="#333" stroke-width="1.4" />
<text x="0" y="0" transform="translate(821.9 1152.1) scale(1 1.05)" font-family="'Liberation Sans', sans-serif" font-size="23" font-weight="bold" text-anchor="middle" fill="#4d4d4d" >−0.4</text>
<line x1="913" y1="1127.3" x2="913" y2="1130.9" stroke="#333" stroke-width="1.4" />
<text x="0" y="0" transform="translate(913 1152.1) scale(1 1.05)" font-family="'Liberation Sans', sans-serif" font-size="23" font-weight="bold" text-anchor="middle" fill="#4d4d4d" >−0.3</text>
<line x1="1004.1" y1="1127.3" x2="1004.1" y2="1130.9" stroke="#333" stroke-width="1.4" />
<text x="0" y="0" transform="translate(1004.1 1152.1) scale(1 1.05)" font-family="'Liberation Sans', sans-serif" font-size="23" font-weight="bold" text-anchor="middle" fill="#4d4d4d" >−0.2</text>
<line x1="1095.2" y1="1127.3" x2="1095.2" y2="1130.9" stroke="#333" stroke-width="1.4" />
<text x="0" y="0" transform="translate(1095.2 1152.1) scale(1 1.05)" font-family="'Liberation Sans', sans-serif" font-size="23" font-weight="bold" text-anchor="middle" fill="#4d4d4d" >−0.1</text>
<line x1="1186.3" y1="1127.3" x2="1186.3" y2="1130.9" stroke="#333" stroke-width="1.4" />
<text x="0" y="0" transform="translate(1186.3 1152.1) scale(1 1.05)" font-family="'Liberation Sans', sans-serif" font-size="23" font-weight="bold" text-anchor="middle" fill="#4d4d4d" >0.0</text>
<line x1="1277.4" y1="1127.3" x2="1277.4" y2="1130.9" stroke="#333" stroke-width="1.4" />
<text x="0" y="0" transform="translate(1277.4 1152.1) scale(1 1.05)" font-family="'Liberation Sans', sans-serif" font-size="23" font-weight="bold" text-anchor="middle" fill="#4d4d4d" >0.1</text>
<line x1="1368.5" y1="1127.3" x2="1368.5" y2="1130.9" stroke="#333" stroke-width="1.4" />
<text x="0" y="0" transform="translate(1368.5 1152.1) scale(1 1.05)" font-family="'Liberation Sans', sans-serif" font-size="23" font-weight="bold" text-anchor="middle" fill="#4d4d4d" >0.2</text>
<line x1="793.2" y1="1169.3" x2="793.2" y2="1462.1" stroke="#000" stroke-width="1.6" />
<line x1="792.4" y1="1461.3" x2="1414" y2="1461.3" stroke="#000" stroke-width="1.6" />
<line x1="1179.8" y1="1461.3" x2="1179.8" y2="1169.3" stroke="#000" stroke-width="3.1" stroke-dasharray="12.2 12.4"/>
<text x="801.5" y="1192.8" font-family="'Liberation Sans', sans-serif" font-size="26" font-weight="bold" text-anchor="start" fill="#000" >bT1</text>
<line x1="788.9" y1="1249" x2="793.2" y2="1249" stroke="#333" stroke-width="1.4" />
<text x="0" y="0" transform="translate(784.8 1257.31) scale(1 1.05)" font-family="'Liberation Sans', sans-serif" font-size="23" font-weight="bold" text-anchor="end" fill="#4d4d4d" >IUGR</text>
<line x1="1019.5" y1="1249" x2="1387.6" y2="1249" stroke="#000" stroke-width="2.8" />
<line x1="1019.5" y1="1242.6" x2="1019.5" y2="1255.4" stroke="#000" stroke-width="3" />
<line x1="1387.6" y1="1242.6" x2="1387.6" y2="1255.4" stroke="#000" stroke-width="3" />
<circle cx="1208.1" cy="1249" r="5.5" fill="#000"/>
<line x1="788.9" y1="1382" x2="793.2" y2="1382" stroke="#333" stroke-width="1.4" />
<text x="0" y="0" transform="translate(784.8 1390.31) scale(1 1.05)" font-family="'Liberation Sans', sans-serif" font-size="23" font-weight="bold" text-anchor="end" fill="#4d4d4d" >Control</text>
<line x1="821.8" y1="1382" x2="1179.8" y2="1382" stroke="#000" stroke-width="2.8" />
<line x1="821.8" y1="1375.6" x2="821.8" y2="1388.4" stroke="#000" stroke-width="3" />
<line x1="1179.8" y1="1375.6" x2="1179.8" y2="1388.4" stroke="#000" stroke-width="3" />
<circle cx="1000.3" cy="1382" r="5.5" fill="#000"/>
<line x1="802.6" y1="1461.3" x2="802.6" y2="1464.9" stroke="#333" stroke-width="1.4" />
<text x="0" y="0" transform="translate(802.6 1486.1) scale(1 1.05)" font-family="'Liberation Sans', sans-serif" font-size="23" font-weight="bold" text-anchor="middle" fill="#4d4d4d" >−0.4</text>
<line x1="896.9" y1="1461.3" x2="896.9" y2="1464.9" stroke="#333" stroke-width="1.4" />
<text x="0" y="0" transform="translate(896.9 1486.1) scale(1 1.05)" font-family="'Liberation Sans', sans-serif" font-size="23" font-weight="bold" text-anchor="middle" fill="#4d4d4d" >−0.3</text>
<line x1="991.2" y1="1461.3" x2="991.2" y2="1464.9" stroke="#333" stroke-width="1.4" />
<text x="0" y="0" transform="translate(991.2 1486.1) scale(1 1.05)" font-family="'Liberation Sans', sans-serif" font-size="23" font-weight="bold" text-anchor="middle" fill="#4d4d4d" >−0.2</text>
<line x1="1085.5" y1="1461.3" x2="1085.5" y2="1464.9" stroke="#333" stroke-width="1.4" />
<text x="0" y="0" transform="translate(1085.5 1486.1) scale(1 1.05)" font-family="'Liberation Sans', sans-serif" font-size="23" font-weight="bold" text-anchor="middle" fill="#4d4d4d" >−0.1</text>
<line x1="1179.8" y1="1461.3" x2="1179.8" y2="1464.9" stroke="#333" stroke-width="1.4" />
<text x="0" y="0" transform="translate(1179.8 1486.1) scale(1 1.05)" font-family="'Liberation Sans', sans-serif" font-size="23" font-weight="bold" text-anchor="middle" fill="#4d4d4d" >0.0</text>
<line x1="1274.1" y1="1461.3" x2="1274.1" y2="1464.9" stroke="#333" stroke-width="1.4" />
<text x="0" y="0" transform="translate(1274.1 1486.1) scale(1 1.05)" font-family="'Liberation Sans', sans-serif" font-size="23" font-weight="bold" text-anchor="middle" fill="#4d4d4d" >0.1</text>
<line x1="1368.4" y1="1461.3" x2="1368.4" y2="1464.9" stroke="#333" stroke-width="1.4" />
<text x="0" y="0" transform="translate(1368.4 1486.1) scale(1 1.05)" font-family="'Liberation Sans', sans-serif" font-size="23" font-weight="bold" text-anchor="middle" fill="#4d4d4d" >0.2</text>
<text x="1104.2" y="1511" font-family="'Liberation Sans', sans-serif" font-size="26" font-weight="bold" text-anchor="middle" fill="#000" >Difference in means on log scale (male − female)</text>
<text x="9.5" y="1614.1" font-family="'Liberation Serif', serif" font-size="51" font-weight="bold" text-anchor="start" fill="#000" >E.</text>
<text x="237" y="1629.2" font-family="'Liberation Sans', sans-serif" font-size="34" font-weight="bold" text-anchor="middle" fill="#1a1a1a" >Birth weight</text>
<text x="563.6" y="1629.9" font-family="'Liberation Sans', sans-serif" font-size="34" font-weight="bold" text-anchor="middle" fill="#1a1a1a" >Placenta weight</text>
<rect x="149.3" y="1660.6" width="19.5" height="39" fill="#ffffff" stroke="#000" stroke-width="2.4"/>
<rect x="262.9" y="1660.6" width="19.6" height="39" fill="#afafaf" stroke="#000" stroke-width="2.4"/>
<text x="180.6" y="1688.5" font-family="'Liberation Serif', serif" font-size="25" font-weight="bold" text-anchor="start" fill="#000" >female</text>
<text x="294.4" y="1688.5" font-family="'Liberation Serif', serif" font-size="25" font-weight="bold" text-anchor="start" fill="#000" >male</text>
<line x1="104.2" y1="1637.7" x2="104.2" y2="2269.2" stroke="#000" stroke-width="1.6" />
<line x1="100.4" y1="2208.8" x2="104.2" y2="2208.8" stroke="#333" stroke-width="1.4" />
<text x="0" y="0" transform="translate(96.8 2219.29) scale(1 1.05)" font-family="'Liberation Sans', sans-serif" font-size="28.5" font-weight="bold" text-anchor="end" fill="#4d4d4d" >1000</text>
<line x1="100.4" y1="2088" x2="104.2" y2="2088" stroke="#333" stroke-width="1.4" />
<text x="0" y="0" transform="translate(96.8 2098.49) scale(1 1.05)" font-family="'Liberation Sans', sans-serif" font-size="28.5" font-weight="bold" text-anchor="end" fill="#4d4d4d" >2000</text>
<line x1="100.4" y1="1967.2" x2="104.2" y2="1967.2" stroke="#333" stroke-width="1.4" />
<text x="0" y="0" transform="translate(96.8 1977.69) scale(1 1.05)" font-family="'Liberation Sans', sans-serif" font-size="28.5" font-weight="bold" text-anchor="end" fill="#4d4d4d" >3000</text>
<line x1="100.4" y1="1846.4" x2="104.2" y2="1846.4" stroke="#333" stroke-width="1.4" />
<text x="0" y="0" transform="translate(96.8 1856.89) scale(1 1.05)" font-family="'Liberation Sans', sans-serif" font-size="28.5" font-weight="bold" text-anchor="end" fill="#4d4d4d" >4000</text>
<line x1="100.4" y1="1725.6" x2="104.2" y2="1725.6" stroke="#333" stroke-width="1.4" />
<text x="0" y="0" transform="translate(96.8 1736.09) scale(1 1.05)" font-family="'Liberation Sans', sans-serif" font-size="28.5" font-weight="bold" text-anchor="end" fill="#4d4d4d" >5000</text>
<line x1="431.2" y1="1638.3" x2="431.2" y2="2268.8" stroke="#000" stroke-width="1.6" />
<line x1="427.4" y1="2226" x2="431.2" y2="2226" stroke="#333" stroke-width="1.4" />
<text x="0" y="0" transform="translate(423.6 2236.49) scale(1 1.05)" font-family="'Liberation Sans', sans-serif" font-size="28.5" font-weight="bold" text-anchor="end" fill="#4d4d4d" >200</text>
<line x1="427.4" y1="2043.55" x2="431.2" y2="2043.55" stroke="#333" stroke-width="1.4" />
<text x="0" y="0" transform="translate(423.6 2054.04) scale(1 1.05)" font-family="'Liberation Sans', sans-serif" font-size="28.5" font-weight="bold" text-anchor="end" fill="#4d4d4d" >400</text>
<line x1="427.4" y1="1861.1" x2="431.2" y2="1861.1" stroke="#333" stroke-width="1.4" />
<text x="0" y="0" transform="translate(423.6 1871.59) scale(1 1.05)" font-family="'Liberation Sans', sans-serif" font-size="28.5" font-weight="bold" text-anchor="end" fill="#4d4d4d" >600</text>
<line x1="427.4" y1="1678.65" x2="431.2" y2="1678.65" stroke="#333" stroke-width="1.4" />
<text x="0" y="0" transform="translate(423.6 1689.14) scale(1 1.05)" font-family="'Liberation Sans', sans-serif" font-size="28.5" font-weight="bold" text-anchor="end" fill="#4d4d4d" >800</text>
<line x1="103.4" y1="2268.4" x2="368.6" y2="2268.4" stroke="#000" stroke-width="1.6" />
<line x1="176.6" y1="2268.4" x2="176.6" y2="2272" stroke="#333" stroke-width="1.4" />
<text x="0" y="0" transform="translate(176.6 2294.2) scale(1 1.04)" font-family="'Liberation Sans', sans-serif" font-size="25.2" font-weight="bold" text-anchor="middle" fill="#4d4d4d" >Control</text>
<line x1="296.6" y1="2268.4" x2="296.6" y2="2272" stroke="#333" stroke-width="1.4" />
<text x="0" y="0" transform="translate(296.6 2294.2) scale(1 1.04)" font-family="'Liberation Sans', sans-serif" font-size="25.2" font-weight="bold" text-anchor="middle" fill="#4d4d4d" >IUGR</text>
<line x1="430.4" y1="2268" x2="696.1" y2="2268" stroke="#000" stroke-width="1.6" />
<line x1="503.7" y1="2268" x2="503.7" y2="2271.6" stroke="#333" stroke-width="1.4" />
<text x="0" y="0" transform="translate(503.7 2293.8) scale(1 1.04)" font-family="'Liberation Sans', sans-serif" font-size="25.2" font-weight="bold" text-anchor="middle" fill="#4d4d4d" >Control</text>
<line x1="624.4" y1="2268" x2="624.4" y2="2271.6" stroke="#333" stroke-width="1.4" />
<text x="0" y="0" transform="translate(624.4 2293.8) scale(1 1.04)" font-family="'Liberation Sans', sans-serif" font-size="25.2" font-weight="bold" text-anchor="middle" fill="#4d4d4d" >IUGR</text>
<text x="23" y="1956.3" font-family="'Liberation Sans', sans-serif" font-size="31.5" font-weight="bold" text-anchor="middle" fill="#000" transform="rotate(-90 23 1956.3)">Weight [g]</text>
<line x1="153.85" y1="1863.7" x2="153.85" y2="1906.6" stroke="#222222" stroke-width="1.35" />
<line x1="153.85" y1="1958.5" x2="153.85" y2="2025.7" stroke="#222222" stroke-width="1.35" />
<rect x="131.1" y="1906.6" width="45.5" height="51.9" fill="#ffffff" stroke="#222222" stroke-width="1.35"/>
<line x1="131.1" y1="1931" x2="176.6" y2="1931" stroke="#2b2b2b" stroke-width="2.6" />
<circle cx="153.8" cy="1923.6" r="4.3" fill="#000"/>
<line x1="199.2" y1="1808" x2="199.2" y2="1866.5" stroke="#222222" stroke-width="1.35" />
<line x1="199.2" y1="1915.3" x2="199.2" y2="1956.5" stroke="#222222" stroke-width="1.35" />
<rect x="176.6" y="1866.5" width="45.2" height="48.8" fill="#bebebe" stroke="#222222" stroke-width="1.35"/>
<line x1="176.6" y1="1890.5" x2="221.8" y2="1890.5" stroke="#2b2b2b" stroke-width="2.6" />
<circle cx="199.2" cy="1898.1" r="4.3" fill="#000"/>
<line x1="274" y1="1987" x2="274" y2="2011.6" stroke="#222222" stroke-width="1.35" />
<line x1="274" y1="2067.5" x2="274" y2="2121.8" stroke="#222222" stroke-width="1.35" />
<rect x="251.4" y="2011.6" width="45.2" height="55.9" fill="#ffffff" stroke="#222222" stroke-width="1.35"/>
<line x1="251.4" y1="2042.1" x2="296.6" y2="2042.1" stroke="#2b2b2b" stroke-width="2.6" />
<circle cx="274" cy="2050.3" r="4.3" fill="#000"/>
<line x1="319.5" y1="1976.3" x2="319.5" y2="2014.4" stroke="#222222" stroke-width="1.35" />
<line x1="319.5" y1="2107.6" x2="319.5" y2="2216.4" stroke="#222222" stroke-width="1.35" />
<rect x="296.6" y="2014.4" width="45.8" height="93.2" fill="#bebebe" stroke="#222222" stroke-width="1.35"/>
<line x1="296.6" y1="2039.5" x2="342.4" y2="2039.5" stroke="#2b2b2b" stroke-width="2.6" />
<circle cx="319.8" cy="2061.3" r="4.3" fill="#000"/>
<line x1="480.9" y1="1666.8" x2="480.9" y2="1875.3" stroke="#222222" stroke-width="1.35" />
<line x1="480.9" y1="2017.5" x2="480.9" y2="2089.4" stroke="#222222" stroke-width="1.35" />
<rect x="458.7" y="1875.3" width="44.4" height="142.2" fill="#ffffff" stroke="#222222" stroke-width="1.35"/>
<line x1="458.7" y1="1941.4" x2="503.1" y2="1941.4" stroke="#2b2b2b" stroke-width="2.6" />
<circle cx="481" cy="1933.7" r="4.3" fill="#000"/>
<line x1="525.9" y1="1757" x2="525.9" y2="1863.1" stroke="#222222" stroke-width="1.35" />
<line x1="525.9" y1="1996.1" x2="525.9" y2="2131.4" stroke="#222222" stroke-width="1.35" />
<rect x="503.1" y="1863.1" width="45.6" height="133" fill="#bebebe" stroke="#222222" stroke-width="1.35"/>
<line x1="503.1" y1="1944.2" x2="548.7" y2="1944.2" stroke="#2b2b2b" stroke-width="2.6" />
<circle cx="526" cy="1927.3" r="4.3" fill="#000"/>
<line x1="601.55" y1="2005.5" x2="601.55" y2="2069.6" stroke="#222222" stroke-width="1.35" />
<line x1="601.55" y1="2132.6" x2="601.55" y2="2194.4" stroke="#222222" stroke-width="1.35" />
<rect x="578.7" y="2069.6" width="45.7" height="63" fill="#ffffff" stroke="#222222" stroke-width="1.35"/>
<line x1="578.7" y1="2091.2" x2="624.4" y2="2091.2" stroke="#2b2b2b" stroke-width="2.6" />
<circle cx="601.5" cy="2097.6" r="4.3" fill="#000"/>
<line x1="647.05" y1="2023.3" x2="647.05" y2="2084.1" stroke="#222222" stroke-width="1.35" />
<line x1="647.05" y1="2125.5" x2="647.05" y2="2165.7" stroke="#222222" stroke-width="1.35" />
<rect x="624.4" y="2084.1" width="45.3" height="41.4" fill="#bebebe" stroke="#222222" stroke-width="1.35"/>
<line x1="624.4" y1="2103.9" x2="669.7" y2="2103.9" stroke="#2b2b2b" stroke-width="2.6" />
<circle cx="646.8" cy="2079.3" r="4.3" fill="#000"/>
<line x1="148.3" y1="2144.9" x2="279.1" y2="2144.9" stroke="#4a4a4a" stroke-width="1.15" />
<text x="211" y="2149.6" font-family="'Liberation Sans', sans-serif" font-size="26" font-weight="bold" text-anchor="middle" fill="#000" letter-spacing="0.9">***</text>
<line x1="199.4" y1="2228.2" x2="322" y2="2228.2" stroke="#4a4a4a" stroke-width="1.15" />
<text x="261.5" y="2232.9" font-family="'Liberation Sans', sans-serif" font-size="26" font-weight="bold" text-anchor="middle" fill="#000" letter-spacing="0.9">***</text>
<line x1="474.9" y1="2204.3" x2="606.1" y2="2204.3" stroke="#4a4a4a" stroke-width="1.15" />
<text x="541" y="2210.2" font-family="'Liberation Sans', sans-serif" font-size="26" font-weight="bold" text-anchor="middle" fill="#000" letter-spacing="0.9">***</text>
<line x1="519.4" y1="2245.8" x2="650.6" y2="2245.8" stroke="#4a4a4a" stroke-width="1.15" />
<text x="585" y="2250.5" font-family="'Liberation Sans', sans-serif" font-size="26" font-weight="bold" text-anchor="middle" fill="#000" letter-spacing="0.9">***</text>
<text x="742" y="1613.3" font-family="'Liberation Serif', serif" font-size="51" font-weight="bold" text-anchor="start" fill="#000" >F.</text>
<text x="1102.2" y="1618.7" font-family="'Liberation Sans', sans-serif" font-size="28.2" font-weight="bold" text-anchor="middle" fill="#000" >95% group−wise confidence level</text>
<line x1="799.1" y1="1630.8" x2="799.1" y2="1915.4" stroke="#000" stroke-width="1.6" />
<line x1="798.3" y1="1914.6" x2="1406.8" y2="1914.6" stroke="#000" stroke-width="1.6" />
<line x1="1077.4" y1="1914.6" x2="1077.4" y2="1630.8" stroke="#000" stroke-width="3.1" stroke-dasharray="11.9 12.21"/>
<text x="816.6" y="1654.4" font-family="'Liberation Sans', sans-serif" font-size="25.5" font-weight="bold" text-anchor="start" fill="#000" >Birth weight</text>
<line x1="794.8" y1="1708.6" x2="799.1" y2="1708.6" stroke="#333" stroke-width="1.4" />
<text x="0" y="0" transform="translate(790.7 1716.73) scale(1 1.05)" font-family="'Liberation Sans', sans-serif" font-size="22.5" font-weight="bold" text-anchor="end" fill="#4d4d4d" >IUGR</text>
<line x1="826.4" y1="1708.6" x2="1240.2" y2="1708.6" stroke="#000" stroke-width="2.8" />
<line x1="826.4" y1="1702.2" x2="826.4" y2="1715" stroke="#000" stroke-width="3" />
<line x1="1240.2" y1="1702.2" x2="1240.2" y2="1715" stroke="#000" stroke-width="3" />
<circle cx="1032.7" cy="1708.6" r="5.5" fill="#000"/>
<line x1="794.8" y1="1837" x2="799.1" y2="1837" stroke="#333" stroke-width="1.4" />
<text x="0" y="0" transform="translate(790.7 1845.13) scale(1 1.05)" font-family="'Liberation Sans', sans-serif" font-size="22.5" font-weight="bold" text-anchor="end" fill="#4d4d4d" >Control</text>
<line x1="976.7" y1="1837" x2="1380.2" y2="1837" stroke="#000" stroke-width="2.8" />
<line x1="976.7" y1="1830.6" x2="976.7" y2="1843.4" stroke="#000" stroke-width="3" />
<line x1="1380.2" y1="1830.6" x2="1380.2" y2="1843.4" stroke="#000" stroke-width="3" />
<circle cx="1177.8" cy="1837" r="5.5" fill="#000"/>
<line x1="860.8" y1="1914.6" x2="860.8" y2="1918.2" stroke="#333" stroke-width="1.4" />
<text x="0" y="0" transform="translate(860.8 1938.2) scale(1 1.05)" font-family="'Liberation Sans', sans-serif" font-size="22.5" font-weight="bold" text-anchor="middle" fill="#4d4d4d" >−450</text>
<line x1="933" y1="1914.6" x2="933" y2="1918.2" stroke="#333" stroke-width="1.4" />
<text x="0" y="0" transform="translate(933 1938.2) scale(1 1.05)" font-family="'Liberation Sans', sans-serif" font-size="22.5" font-weight="bold" text-anchor="middle" fill="#4d4d4d" >−300</text>
<line x1="1005.2" y1="1914.6" x2="1005.2" y2="1918.2" stroke="#333" stroke-width="1.4" />
<text x="0" y="0" transform="translate(1005.2 1938.2) scale(1 1.05)" font-family="'Liberation Sans', sans-serif" font-size="22.5" font-weight="bold" text-anchor="middle" fill="#4d4d4d" >−150</text>
<line x1="1077.4" y1="1914.6" x2="1077.4" y2="1918.2" stroke="#333" stroke-width="1.4" />
<text x="0" y="0" transform="translate(1077.4 1938.2) scale(1 1.05)" font-family="'Liberation Sans', sans-serif" font-size="22.5" font-weight="bold" text-anchor="middle" fill="#4d4d4d" >0</text>
<line x1="1149.6" y1="1914.6" x2="1149.6" y2="1918.2" stroke="#333" stroke-width="1.4" />
<text x="0" y="0" transform="translate(1149.6 1938.2) scale(1 1.05)" font-family="'Liberation Sans', sans-serif" font-size="22.5" font-weight="bold" text-anchor="middle" fill="#4d4d4d" >150</text>
<line x1="1221.8" y1="1914.6" x2="1221.8" y2="1918.2" stroke="#333" stroke-width="1.4" />
<text x="0" y="0" transform="translate(1221.8 1938.2) scale(1 1.05)" font-family="'Liberation Sans', sans-serif" font-size="22.5" font-weight="bold" text-anchor="middle" fill="#4d4d4d" >300</text>
<line x1="1294" y1="1914.6" x2="1294" y2="1918.2" stroke="#333" stroke-width="1.4" />
<text x="0" y="0" transform="translate(1294 1938.2) scale(1 1.05)" font-family="'Liberation Sans', sans-serif" font-size="22.5" font-weight="bold" text-anchor="middle" fill="#4d4d4d" >450</text>
<line x1="1366.2" y1="1914.6" x2="1366.2" y2="1918.2" stroke="#333" stroke-width="1.4" />
<text x="0" y="0" transform="translate(1366.2 1938.2) scale(1 1.05)" font-family="'Liberation Sans', sans-serif" font-size="22.5" font-weight="bold" text-anchor="middle" fill="#4d4d4d" >600</text>
<line x1="799.1" y1="1953.1" x2="799.1" y2="2240.5" stroke="#000" stroke-width="1.6" />
<line x1="798.3" y1="2239.7" x2="1406.8" y2="2239.7" stroke="#000" stroke-width="1.6" />
<line x1="1058.3" y1="2239.7" x2="1058.3" y2="1953.1" stroke="#000" stroke-width="3.1" stroke-dasharray="11.9 12.21"/>
<text x="824.4" y="1977.4" font-family="'Liberation Sans', sans-serif" font-size="25.5" font-weight="bold" text-anchor="start" fill="#000" >Placenta weight</text>
<line x1="794.8" y1="2032.5" x2="799.1" y2="2032.5" stroke="#333" stroke-width="1.4" />
<text x="0" y="0" transform="translate(790.7 2040.63) scale(1 1.05)" font-family="'Liberation Sans', sans-serif" font-size="22.5" font-weight="bold" text-anchor="end" fill="#4d4d4d" >IUGR</text>
<line x1="860" y1="2032.5" x2="1380.2" y2="2032.5" stroke="#000" stroke-width="2.8" />
<line x1="860" y1="2026.1" x2="860" y2="2038.9" stroke="#000" stroke-width="3" />
<line x1="1380.2" y1="2026.1" x2="1380.2" y2="2038.9" stroke="#000" stroke-width="3" />
<circle cx="1119.6" cy="2032.5" r="5.5" fill="#000"/>
<line x1="794.8" y1="2162.4" x2="799.1" y2="2162.4" stroke="#333" stroke-width="1.4" />
<text x="0" y="0" transform="translate(790.7 2170.53) scale(1 1.05)" font-family="'Liberation Sans', sans-serif" font-size="22.5" font-weight="bold" text-anchor="end" fill="#4d4d4d" >Control</text>
<line x1="826.4" y1="2162.4" x2="1333.8" y2="2162.4" stroke="#000" stroke-width="2.8" />
<line x1="826.4" y1="2156" x2="826.4" y2="2168.8" stroke="#000" stroke-width="3" />
<line x1="1333.8" y1="2156" x2="1333.8" y2="2168.8" stroke="#000" stroke-width="3" />
<circle cx="1080.2" cy="2162.4" r="5.5" fill="#000"/>
<line x1="845.95" y1="2239.7" x2="845.95" y2="2243.3" stroke="#333" stroke-width="1.4" />
<text x="0" y="0" transform="translate(845.95 2263.3) scale(1 1.05)" font-family="'Liberation Sans', sans-serif" font-size="22.5" font-weight="bold" text-anchor="middle" fill="#4d4d4d" >−70</text>
<line x1="906.62" y1="2239.7" x2="906.62" y2="2243.3" stroke="#333" stroke-width="1.4" />
<text x="0" y="0" transform="translate(906.62 2263.3) scale(1 1.05)" font-family="'Liberation Sans', sans-serif" font-size="22.5" font-weight="bold" text-anchor="middle" fill="#4d4d4d" >−50</text>
<line x1="967.29" y1="2239.7" x2="967.29" y2="2243.3" stroke="#333" stroke-width="1.4" />
<text x="0" y="0" transform="translate(967.29 2263.3) scale(1 1.05)" font-family="'Liberation Sans', sans-serif" font-size="22.5" font-weight="bold" text-anchor="middle" fill="#4d4d4d" >−30</text>
<line x1="1027.96" y1="2239.7" x2="1027.96" y2="2243.3" stroke="#333" stroke-width="1.4" />
<text x="0" y="0" transform="translate(1027.96 2263.3) scale(1 1.05)" font-family="'Liberation Sans', sans-serif" font-size="22.5" font-weight="bold" text-anchor="middle" fill="#4d4d4d" >−10</text>
<line x1="1088.63" y1="2239.7" x2="1088.63" y2="2243.3" stroke="#333" stroke-width="1.4" />
<text x="0" y="0" transform="translate(1088.63 2263.3) scale(1 1.05)" font-family="'Liberation Sans', sans-serif" font-size="22.5" font-weight="bold" text-anchor="middle" fill="#4d4d4d" >10</text>
<line x1="1149.3" y1="2239.7" x2="1149.3" y2="2243.3" stroke="#333" stroke-width="1.4" />
<text x="0" y="0" transform="translate(1149.3 2263.3) scale(1 1.05)" font-family="'Liberation Sans', sans-serif" font-size="22.5" font-weight="bold" text-anchor="middle" fill="#4d4d4d" >30</text>
<line x1="1209.97" y1="2239.7" x2="1209.97" y2="2243.3" stroke="#333" stroke-width="1.4" />
<text x="0" y="0" transform="translate(1209.97 2263.3) scale(1 1.05)" font-family="'Liberation Sans', sans-serif" font-size="22.5" font-weight="bold" text-anchor="middle" fill="#4d4d4d" >50</text>
<line x1="1270.64" y1="2239.7" x2="1270.64" y2="2243.3" stroke="#333" stroke-width="1.4" />
<text x="0" y="0" transform="translate(1270.64 2263.3) scale(1 1.05)" font-family="'Liberation Sans', sans-serif" font-size="22.5" font-weight="bold" text-anchor="middle" fill="#4d4d4d" >70</text>
<line x1="1331.32" y1="2239.7" x2="1331.32" y2="2243.3" stroke="#333" stroke-width="1.4" />
<text x="0" y="0" transform="translate(1331.32 2263.3) scale(1 1.05)" font-family="'Liberation Sans', sans-serif" font-size="22.5" font-weight="bold" text-anchor="middle" fill="#4d4d4d" >90</text>
<line x1="1391.98" y1="2239.7" x2="1391.98" y2="2243.3" stroke="#333" stroke-width="1.4" />
<text x="0" y="0" transform="translate(1391.98 2263.3) scale(1 1.05)" font-family="'Liberation Sans', sans-serif" font-size="22.5" font-weight="bold" text-anchor="middle" fill="#4d4d4d" >110</text>
<text x="1103" y="2290.5" font-family="'Liberation Sans', sans-serif" font-size="25.4" font-weight="bold" text-anchor="middle" fill="#000" >Difference in means (male − female) [g]</text>
</svg>
</body></html>
